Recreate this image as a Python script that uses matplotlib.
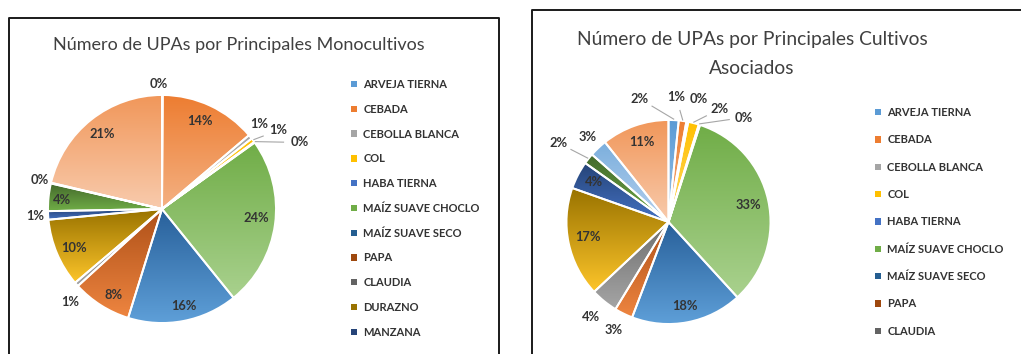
import numpy as np
import matplotlib

matplotlib.use("Agg")
import matplotlib.pyplot as plt
from matplotlib.colors import to_rgb
from matplotlib.lines import Line2D
from matplotlib.patches import Patch

plt.rcParams["font.family"] = ["Lato", "DejaVu Sans"]

# cultivos que aparecen en la leyenda (orden de la serie en Excel)
cultivos = [
    "ARVEJA TIERNA", "CEBADA", "CEBOLLA BLANCA", "COL", "HABA TIERNA",
    "MAÍZ SUAVE CHOCLO", "MAÍZ SUAVE SECO", "PAPA", "CLAUDIA", "DURAZNO",
    "MANZANA",
]

# participación (%) de UPAs por cultivo; la serie tiene 14 porciones
mono_pct = [0.1, 13.7, 0.6, 0.6, 0.1, 24.1, 15.6, 8.4, 0.6, 9.7, 1.2, 3.9, 0.1, 21.3]
asoc_pct = [1.6, 1.2, 0.3, 1.7, 0.2, 33.2, 17.6, 2.9, 4.3, 17.4, 4.4, 1.7, 2.8, 10.7]

titulo_mono = "Número de UPAs por Principales Monocultivos"
titulo_asoc = "Número de UPAs por Principales Cultivos\nAsociados"

# degradado por porción: color superior / color inferior
col_top = ["#5B9BD5", "#ED7D31", "#A5A5A5", "#FFC000", "#4472C4", "#70AD47",
           "#28609A", "#AE5018", "#6E6E6E", "#997300", "#264478", "#43682B",
           "#7CAFDD", "#F1975A"]
col_bot = ["#9DC3E6", "#F4B183", "#C9C9C9", "#FFD966", "#8FAADC", "#A9D18E",
           "#5E9FD8", "#EE8540", "#A5A5A5", "#FDC52A", "#4472C4", "#70AD47",
           "#B4D0EE", "#F8CBAD"]
col_leg = ["#5B9BD5", "#ED7D31", "#A5A5A5", "#FFC000", "#4472C4", "#70AD47",
           "#255E91", "#9E480E", "#636363", "#997300", "#264478"]

W, H = 1021, 354
TXT = "#333333"

fig = plt.figure(figsize=(W / 100, H / 100), dpi=100)


def fx(px):
    return px / W


def fy(py):
    return 1 - py / H


def pie_axes(cx, cy, r):
    half = 1.25 * r
    return fig.add_axes([fx(cx - half), fy(cy + half), 2 * half / W, 2 * half / H])


def gradient_pie(ax, values, lab_r, lab_da, leaders):
    wedges, _ = ax.pie(values, startangle=90, counterclock=False,
                       wedgeprops=dict(edgecolor="white", linewidth=1.4))
    total = sum(values)
    t = np.linspace(0, 1, 128)[:, None, None]
    for i, w in enumerate(wedges):
        ext = w.get_path().get_extents()
        top = np.array(to_rgb(col_top[i]))
        bot = np.array(to_rgb(col_bot[i]))
        img = top * (1 - t) + bot * t
        im = ax.imshow(img, extent=(ext.x0, ext.x1, ext.y0, ext.y1),
                       origin="upper", interpolation="bilinear",
                       aspect="auto", zorder=1)
        im.set_clip_path(w)
        w.set_facecolor("none")
        w.set_zorder(2)

        mid = np.deg2rad((w.theta1 + w.theta2) / 2 - lab_da[i])
        lx, ly = lab_r[i] * np.cos(mid), lab_r[i] * np.sin(mid)
        ax.text(lx, ly, f"{values[i] / total * 100:.0f}%", ha="center",
                va="center", fontsize=9.3, fontweight="bold", color=TXT,
                zorder=4)
        if leaders[i]:
            m0 = np.deg2rad((w.theta1 + w.theta2) / 2)
            ex, ey = 1.01 * np.cos(m0), 1.01 * np.sin(m0)
            d = np.array([ex - lx, ey - ly])
            d /= np.hypot(*d)
            ax.plot([lx + 0.14 * d[0], ex], [ly + 0.14 * d[1], ey],
                    color="#A6A6A6", lw=0.8, zorder=3)
    ax.set_xlim(-1.25, 1.25)
    ax.set_ylim(-1.25, 1.25)
    ax.set_aspect("equal")
    ax.axis("off")


# --- Monocultivos ---
ax1 = pie_axes(162, 209, 114)
gradient_pie(
    ax1, mono_pct,
    lab_r=[1.10, 0.84, 1.13, 1.23, 1.34, 0.83, 0.87, 0.87, 1.15, 0.84, 1.11, 0.88, 1.10, 0.84],
    lab_da=[-1.5, -2, -2, 3, 10, -2, -2, -3, -4, -1, 0, -1, 0, 0],
    leaders=[0, 0, 0, 1, 1, 0, 0, 0, 0, 0, 0, 0, 0, 0],
)

# --- Cultivos asociados ---
ax2 = pie_axes(668.5, 222, 102)
gradient_pie(
    ax2, asoc_pct,
    lab_r=[1.24, 1.23, 1.24, 1.21, 1.26, 0.80, 0.84, 1.19, 1.20, 0.80, 0.83, 1.33, 1.15, 0.83],
    lab_da=[-16, -4.5, 3, 10, 18, 0, 0, 1, 0, 1, 1, -2.7, 0, 1],
    leaders=[1, 1, 0, 1, 1, 0, 0, 0, 0, 0, 0, 1, 0, 0],
)

# titulos
fig.text(fx(239), fy(45), titulo_mono, ha="center", va="center",
         fontsize=12.95, color="#404040")
fig.text(fx(752), fy(54), titulo_asoc, ha="center", va="center",
         fontsize=13.9, color="#404040", linespacing=1.8)

# leyendas (solo las entradas que caben en el marco)
handles = [Patch(facecolor=c, edgecolor="none") for c in col_leg]
legend_kw = dict(loc="upper left", frameon=False, handlelength=0.5,
                 handleheight=0.5, handletextpad=0.6, borderaxespad=0,
                 borderpad=0, prop=dict(weight="bold", size=8))
fig.legend(handles, cultivos, bbox_to_anchor=(fx(351), fy(79)),
           labelspacing=1.24, **legend_kw)
fig.legend(handles[:9], cultivos[:9], bbox_to_anchor=(fx(875), fy(107)),
           labelspacing=1.47, **legend_kw)
for lg in fig.legends:
    for t in lg.get_texts():
        t.set_color(TXT)

# marcos de los graficos
for xs, ys in [([9, 9, 499, 499], [H + 5, 18, 18, H + 5]),
               ([532, 532, W + 5], [H + 5, 10, 10])]:
    fig.add_artist(Line2D([fx(x) for x in xs], [fy(y) for y in ys],
                          color="#1a1a1a", lw=1.4))

fig.savefig("out.png", dpi=100)
